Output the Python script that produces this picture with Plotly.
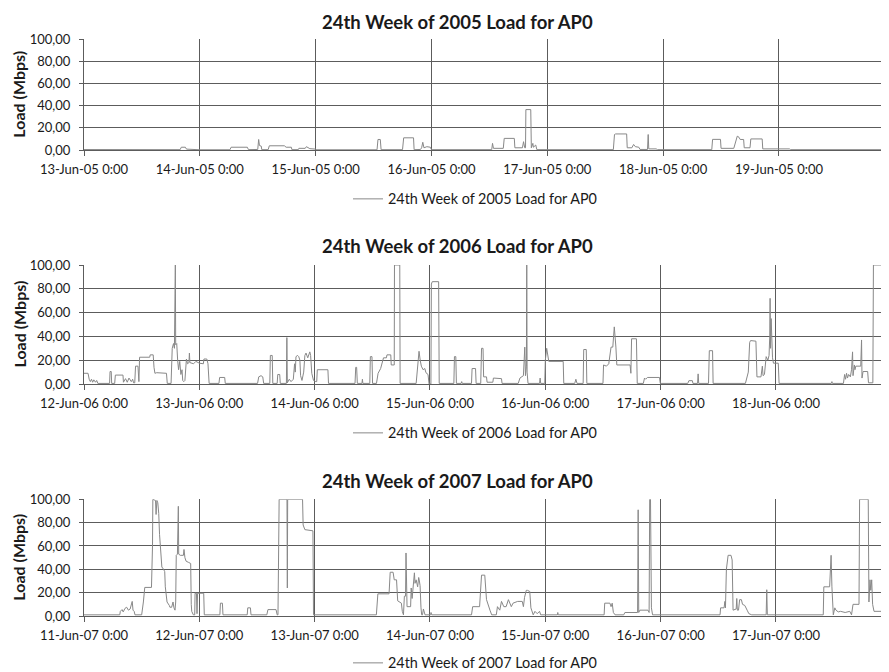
import plotly.graph_objects as go
import pandas as pd

# ---------------- DATA ----------------
START_DATES = ["2005-06-13", "2006-06-12", "2007-06-11"]
TITLES = ["24th Week of 2005 Load for AP0",
          "24th Week of 2006 Load for AP0",
          "24th Week of 2007 Load for AP0"]

TICKS_2005 = ["13-Jun-05 0:00", "14-Jun-05 0:00", "15-Jun-05 0:00", "16-Jun-05 0:00",
              "17-Jun-05 0:00", "18-Jun-05 0:00", "19-Jun-05 0:00"]
TICKS_2006 = ["12-Jun-06 0:00", "13-Jun-06 0:00", "14-Jun-06 0:00", "15-Jun-06 0:00",
              "16-Jun-06 0:00", "17-Jun-06 0:00", "18-Jun-06 0:00"]
TICKS_2007 = ["11-Jun-07 0:00", "12-Jun-07 0:00", "13-Jun-07 0:00", "14-Jun-07 0:00",
              "15-Jun-07 0:00", "16-Jun-07 0:00", "17-Jun-07 0:00"]

Y_TICK_VALUES = [0, 20, 40, 60, 80, 100]
Y_TICK_TEXT = ["0,00", "20,00", "40,00", "60,00", "80,00", "100,00"]

# (days since first midnight, load in Mbps)
SERIES_2005 = [
    (0.00, 0.4), (0.83, 0.3), (0.84, 2.5), (0.875, 2.5), (0.885, 0.8), (0.95, 0.5), (1.0, 0.2),
    (1.26, 0.2), (1.27, 2.5), (1.41, 2.5), (1.42, 0.3),
    (1.50, 0.5), (1.508, 9.5), (1.515, 4), (1.53, 3.5), (1.535, 0.3),
    (1.59, 0.3), (1.60, 3.8), (1.73, 3.8), (1.745, 2.5), (1.79, 2.5), (1.795, 0.3),
    (1.85, 0.3), (1.855, 1.5), (1.91, 1.5), (1.92, 3), (1.935, 2.2), (1.95, 1.2), (2.0, 0.8), (2.01, 0.2),
    (2.53, 0.2), (2.538, 9.5), (2.558, 9.5), (2.565, 0.3),
    (2.75, 0.3), (2.76, 11), (2.845, 11), (2.85, 0.3),
    (2.905, 0.5), (2.915, 2), (2.925, 7), (2.935, 2), (2.96, 3), (2.99, 2.5), (3.0, 0.3),
    (3.52, 0.3), (3.527, 6), (3.535, 1.5), (3.62, 1.5), (3.628, 10.5), (3.715, 10.5), (3.72, 2),
    (3.785, 2), (3.795, 7.5), (3.805, 2), (3.812, 2), (3.815, 36.5), (3.857, 36.5), (3.862, 2),
    (3.875, 6), (3.88, 2.5), (3.9, 4.5), (3.91, 0.3),
    (4.57, 0.3), (4.58, 14), (4.59, 14.5), (4.685, 14.5), (4.69, 2), (4.73, 2), (4.745, 5),
    (4.76, 3), (4.79, 2.5), (4.80, 0.5),
    (4.865, 0.5), (4.871, 14), (4.876, 1), (4.94, 1), (4.95, 0.3),
    (5.42, 0.3), (5.427, 9.6), (5.495, 9.6), (5.50, 1.5), (5.61, 1.5), (5.625, 7), (5.64, 12.5),
    (5.655, 11.5), (5.665, 9.5), (5.695, 9.5), (5.70, 2), (5.75, 2), (5.757, 10), (5.855, 10),
    (5.86, 1), (6.09, 1), (6.10, 0.3), (6.95, 0.3),
]

SERIES_2006 = [
    (0.000, 9), (0.035, 9), (0.045, 4), (0.055, 2), (0.065, 4), (0.075, 1.5), (0.085, 3.5),
    (0.1, 1.5), (0.11, 3), (0.12, 0.5),
    (0.222, 0.5), (0.226, 10.5), (0.236, 10.5), (0.24, 0.5),
    (0.266, 0.5), (0.272, 7.5), (0.338, 7.5), (0.342, 1.5), (0.36, 4.5), (0.375, 1.5), (0.39, 5),
    (0.41, 2), (0.422, 4), (0.43, 1),
    (0.44, 1), (0.447, 15), (0.468, 15), (0.472, 2), (0.476, 2), (0.482, 22.5), (0.57, 22.5),
    (0.574, 24.5), (0.6, 24.5), (0.607, 14), (0.615, 9), (0.63, 9.5), (0.715, 9), (0.722, 0.5),
    (0.755, 0.5), (0.765, 30), (0.776, 34), (0.784, 30), (0.789, 100), (0.792, 100), (0.795, 33),
    (0.804, 34), (0.812, 20), (0.82, 12), (0.83, 19), (0.84, 8), (0.85, 12), (0.856, 3), (0.865, 2),
    (0.875, 3), (0.888, 21), (0.898, 17), (0.91, 18), (0.914, 26), (0.918, 18), (0.95, 17),
    (0.97, 19), (1.0, 17.5), (1.035, 17), (1.04, 21), (1.065, 21), (1.075, 17), (1.085, 0.5),
    (1.17, 0.5), (1.176, 5.5), (1.22, 5.5), (1.225, 0.5),
    (1.505, 0.5), (1.515, 6), (1.535, 7), (1.55, 6), (1.558, 0.5),
    (1.611, 0.5), (1.616, 24), (1.632, 24), (1.637, 0.5),
    (1.675, 0.5), (1.68, 8), (1.697, 8), (1.702, 0.5),
    (1.755, 0.5), (1.759, 39), (1.763, 1), (1.78, 4), (1.795, 2), (1.815, 4), (1.826, 17),
    (1.832, 10), (1.838, 23), (1.852, 24), (1.862, 23), (1.872, 20), (1.878, 7), (1.89, 3),
    (1.905, 10), (1.915, 24), (1.925, 26), (1.94, 22), (1.958, 27), (1.965, 24), (1.975, 9),
    (1.99, 3), (2.01, 2),
    (2.018, 2), (2.023, 12), (2.115, 12), (2.12, 0.5),
    (2.35, 0.5), (2.356, 14), (2.364, 14), (2.37, 0.5),
    (2.41, 0.5), (2.414, 4), (2.418, 0.5),
    (2.478, 0.5), (2.483, 23), (2.497, 23), (2.502, 0.5),
    (2.536, 0.5), (2.55, 9), (2.572, 13), (2.585, 17.5), (2.597, 22), (2.622, 22), (2.627, 24.5),
    (2.66, 24.5), (2.664, 16), (2.69, 16), (2.692, 100), (2.738, 100), (2.741, 0.5),
    (2.88, 0.5), (2.893, 14), (2.905, 27.5), (2.915, 20), (2.925, 15), (2.94, 12), (2.955, 13),
    (2.965, 9.5), (2.983, 8), (2.992, 0),
    (3.008, 0), (3.012, 84), (3.02, 86), (3.075, 86), (3.08, 0.5),
    (3.207, 0.5), (3.212, 23), (3.224, 23), (3.229, 0.5),
    (3.27, 0.5), (3.275, 2), (3.28, 0.5),
    (3.36, 0.5), (3.365, 13), (3.395, 13), (3.4, 0.5),
    (3.44, 0.5), (3.447, 30), (3.46, 30), (3.465, 6), (3.49, 6), (3.495, 1.5), (3.545, 1.5),
    (3.55, 5), (3.6, 5), (3.62, 4.5), (3.625, 0.5),
    (3.765, 0.5), (3.78, 5), (3.81, 7), (3.822, 31), (3.828, 7), (3.836, 15), (3.839, 100),
    (3.842, 10), (3.85, 0.5),
    (3.95, 0.5), (3.955, 5), (3.96, 0.5),
    (3.995, 0.5), (4.0, 20), (4.012, 30), (4.02, 25), (4.03, 19), (4.155, 19), (4.16, 0.5),
    (4.255, 0.5), (4.265, 4), (4.275, 0.5),
    (4.328, 0.5), (4.333, 29), (4.355, 29), (4.36, 0.5),
    (4.5, 0.5), (4.505, 16), (4.53, 15), (4.55, 17), (4.57, 31), (4.585, 31), (4.598, 48),
    (4.612, 31), (4.62, 16), (4.735, 16), (4.742, 9), (4.748, 38), (4.79, 38), (4.797, 0.5),
    (4.85, 0.5), (4.86, 5), (4.87, 4), (4.885, 5.5), (4.99, 5.5), (4.997, 0.5),
    (5.235, 0.5), (5.245, 2.8), (5.275, 2.8), (5.28, 0.5),
    (5.32, 0.5), (5.325, 8.5), (5.33, 0.5),
    (5.415, 0.5), (5.422, 28), (5.45, 28), (5.455, 0.5),
    (5.735, 0.5), (5.76, 10), (5.772, 35), (5.78, 36.5), (5.826, 36), (5.835, 6), (5.87, 6),
    (5.882, 15), (5.888, 7), (5.9, 8), (5.915, 23), (5.93, 20), (5.94, 24), (5.946, 40),
    (5.949, 72), (5.953, 30), (5.958, 55), (5.962, 40), (5.97, 22), (5.978, 17.5), (6.02, 17.5),
    (6.027, 0.5),
    (6.48, 0.5), (6.485, 2), (6.49, 0.5),
    (6.585, 0.5), (6.595, 8), (6.603, 4), (6.612, 9), (6.62, 5), (6.63, 8), (6.645, 6),
    (6.655, 12), (6.664, 27), (6.668, 7), (6.68, 16), (6.685, 12), (6.692, 15), (6.735, 15),
    (6.742, 37), (6.746, 5), (6.755, 10.5), (6.795, 10.5), (6.802, 1), (6.84, 1), (6.845, 100),
    (6.94, 100), (6.945, 29), (6.952, 56), (6.985, 53),
]

SERIES_2007 = [
    (0.0, 1), (0.31, 1), (0.315, 4), (0.33, 5.5), (0.34, 3.5), (0.355, 6.5), (0.37, 7.5),
    (0.385, 5), (0.4, 6), (0.418, 12.5), (0.425, 5), (0.435, 4), (0.442, 1),
    (0.5, 1), (0.515, 12), (0.527, 24.5), (0.585, 24.5), (0.594, 60), (0.597, 100), (0.62, 99),
    (0.625, 87), (0.632, 99), (0.64, 97), (0.648, 88), (0.655, 70), (0.665, 50), (0.675, 42),
    (0.69, 40), (0.7, 38), (0.705, 25), (0.72, 12), (0.74, 9), (0.745, 7.5), (0.76, 7.5),
    (0.772, 12), (0.78, 7), (0.789, 5), (0.795, 12),
    (0.8, 52), (0.81, 53), (0.818, 94), (0.821, 53), (0.835, 52), (0.862, 52), (0.867, 57),
    (0.875, 50), (0.885, 47), (0.905, 46), (0.925, 45), (0.93, 10), (0.934, 4), (0.948, 1),
    (0.96, 1), (0.963, 19.5), (0.975, 19.5), (0.98, 2), (0.985, 19.5), (1.038, 19.5), (1.043, 1),
    (1.178, 1), (1.183, 11), (1.2, 11), (1.205, 1),
    (1.415, 1), (1.42, 7), (1.443, 7), (1.448, 1),
    (1.585, 1), (1.595, 5.5), (1.665, 5.5), (1.675, 1), (1.682, 1), (1.692, 100), (1.76, 100),
    (1.763, 24), (1.766, 100), (1.895, 100), (1.9, 78), (1.915, 74), (1.985, 73), (1.99, 1),
    (2.535, 1), (2.548, 19), (2.645, 19), (2.655, 37.5), (2.68, 37.5), (2.69, 31), (2.71, 31),
    (2.72, 13), (2.752, 11), (2.76, 4), (2.77, 1), (2.778, 17), (2.788, 17), (2.792, 54),
    (2.796, 17), (2.801, 8), (2.832, 8), (2.837, 24), (2.845, 15), (2.855, 28), (2.865, 37),
    (2.87, 28), (2.88, 31), (2.893, 25), (2.902, 33), (2.908, 30), (2.914, 26), (2.922, 7),
    (2.928, 1), (2.935, 1), (2.943, 6), (2.957, 1),
    (3.005, 1), (3.009, 3), (3.015, 1),
    (3.36, 1), (3.37, 8), (3.43, 8), (3.447, 35), (3.475, 35), (3.49, 14), (3.52, 5), (3.535, 1),
    (3.575, 1), (3.585, 8), (3.605, 5), (3.62, 12.5), (3.64, 8), (3.66, 8), (3.68, 14),
    (3.705, 8), (3.72, 11), (3.76, 12.5), (3.8, 12.5), (3.81, 8), (3.82, 16), (3.835, 22),
    (3.845, 22), (3.865, 21), (3.875, 7), (3.895, 1), (3.91, 4), (3.93, 2), (3.95, 4), (3.96, 1),
    (4.105, 1), (4.108, 3), (4.112, 1),
    (4.51, 1), (4.515, 11), (4.56, 11), (4.57, 8), (4.58, 11), (4.59, 3), (4.605, 1), (4.68, 1),
    (4.69, 3), (4.8, 3), (4.805, 91), (4.81, 3), (4.82, 5), (4.89, 5), (4.9, 3), (4.905, 100),
    (4.912, 100), (4.92, 7), (4.93, 1),
    (5.515, 1), (5.52, 7), (5.55, 7), (5.557, 12.5), (5.562, 7), (5.57, 40), (5.585, 52),
    (5.61, 52), (5.62, 48), (5.628, 5), (5.655, 6), (5.66, 15), (5.665, 5), (5.675, 5),
    (5.685, 14), (5.7, 14), (5.71, 10), (5.73, 9), (5.75, 5), (5.765, 2), (5.79, 1),
    (5.915, 1), (5.92, 22.5), (5.925, 1),
    (6.41, 1), (6.415, 25), (6.465, 25), (6.478, 52), (6.485, 25), (6.49, 8), (6.497, 1),
    (6.51, 7), (6.52, 5), (6.54, 3.5), (6.56, 4), (6.6, 3), (6.64, 4), (6.655, 1), (6.668, 10),
    (6.72, 10), (6.725, 100), (6.8, 100), (6.806, 12), (6.815, 31), (6.822, 22), (6.83, 31),
    (6.838, 10), (6.85, 4), (6.96, 4), (6.965, 8), (6.985, 8),
]

ALL_SERIES = [SERIES_2005, SERIES_2006, SERIES_2007]
ALL_TICKS = [TICKS_2005, TICKS_2006, TICKS_2007]

# ---------------- STYLE / LAYOUT ----------------
# The page body has an 8px margin, so the figure is laid out in window pixels minus 8.
OFF = 8
WIN_W, WIN_H = 889, 672
W, H = WIN_W - OFF, WIN_H - OFF
FONT = "Lato, 'Open Sans', 'DejaVu Sans', sans-serif"
GRID = "#5c5c5c"
LINE = "#888888"
TEXT = "#1a1a1a"
X_SPAN_DAYS = [6.95, 6.98, 6.98]
# (top px, bottom px) of each plot area, window pixels
PANELS = [(39.3, 150.0), (265.0, 384.0), (499.3, 616.0)]
TITLE_TOP = [8.5, 233, 468]
LEGEND_Y = [199, 433, 663]
TITLE_X = 457
YTITLE_X = 19
LEGEND_X = 348


def py(v):
    """window y pixel -> paper fraction"""
    return 1 - (v - OFF) / H


def px(v):
    """window x pixel -> paper fraction"""
    return (v - OFF) / W


fig = go.Figure()
layout = dict(
    width=W, height=H, autosize=False,
    margin=dict(l=0, r=0, t=0, b=0, pad=0, autoexpand=False),
    paper_bgcolor="white", plot_bgcolor="white",
    font=dict(family=FONT, color=TEXT, size=13),
    annotations=[],
)

for i in range(3):
    sfx = "" if i == 0 else str(i + 1)
    start = pd.Timestamp(START_DATES[i])
    days = [p[0] for p in ALL_SERIES[i]]
    vals = [p[1] for p in ALL_SERIES[i]]
    xs = [start + pd.Timedelta(days=d) for d in days]
    legend_name = "legend" + sfx
    fig.add_trace(go.Scatter(
        x=xs, y=vals, mode="lines", name=TITLES[i],
        line=dict(color=LINE, width=1),
        xaxis="x" + sfx, yaxis="y" + sfx, legend=legend_name,
        showlegend=True,
    ))
    top, bot = PANELS[i]
    tickdates = [start + pd.Timedelta(days=k) for k in range(len(ALL_TICKS[i]))]
    layout["xaxis" + sfx] = dict(
        type="date",
        domain=[px(84), 1.0],
        anchor="y" + sfx,
        range=[start, start + pd.Timedelta(days=X_SPAN_DAYS[i])],
        tickmode="array", tickvals=tickdates, ticktext=ALL_TICKS[i],
        showgrid=True, gridcolor=GRID, gridwidth=1,
        showline=True, linecolor=GRID, linewidth=1,
        ticks="outside", ticklen=5, tickcolor=GRID, tickwidth=1,
        ticklabelstandoff=2,
        tickfont=dict(size=13, family=FONT, color=TEXT),
        zeroline=False, fixedrange=True, automargin=False,
    )
    layout["yaxis" + sfx] = dict(
        domain=[py(bot), py(top)],
        anchor="x" + sfx,
        range=[0, 100],
        tickmode="array", tickvals=Y_TICK_VALUES, ticktext=Y_TICK_TEXT,
        showgrid=True, gridcolor=GRID, gridwidth=1,
        showline=True, linecolor=GRID, linewidth=1,
        ticks="outside", ticklen=4, tickcolor=GRID, tickwidth=1,
        ticklabelstandoff=6,
        tickfont=dict(size=13, family=FONT, color=TEXT),
        zeroline=False, fixedrange=True, automargin=False,
    )
    layout[legend_name] = dict(
        xref="container", yref="container",
        x=px(LEGEND_X), xanchor="left",
        y=py(LEGEND_Y[i]), yanchor="middle",
        bgcolor="rgba(0,0,0,0)", borderwidth=0,
        font=dict(size=14.4, family=FONT, color=TEXT),
        orientation="h",
    )
    layout["annotations"].append(dict(
        text="<b>" + TITLES[i] + "</b>", x=px(TITLE_X), y=py(TITLE_TOP[i]),
        xref="paper", yref="paper", xanchor="center", yanchor="top",
        showarrow=False, font=dict(size=18.5, family=FONT, color=TEXT),
    ))
    layout["annotations"].append(dict(
        text="<b>Load (Mbps)</b>", x=px(YTITLE_X), y=py((top + bot) / 2),
        xref="paper", yref="paper", xanchor="center", yanchor="middle",
        textangle=-90, showarrow=False, font=dict(size=16, family=FONT, color=TEXT),
    ))

fig.update_layout(**layout)
fig.write_html("out.html")
